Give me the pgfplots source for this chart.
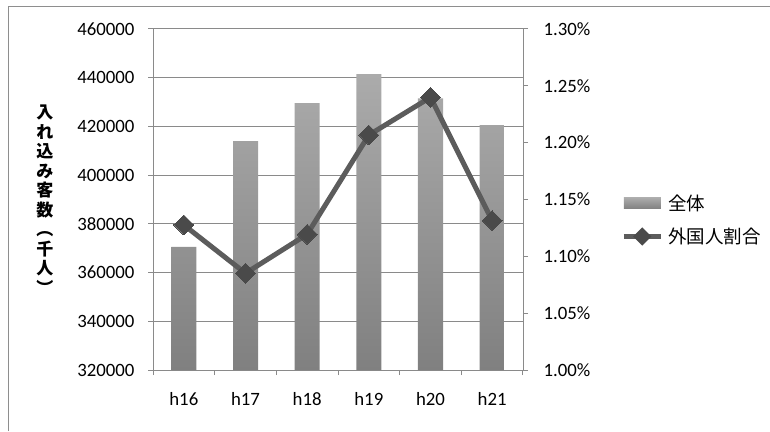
\documentclass[border=0pt]{standalone}
\usepackage{pgfplots}
\pgfplotsset{compat=1.18}
\usepackage{pgfplotstable}
\usepackage{fontspec}
\setmainfont{Carlito}
\newfontfamily\jp{Noto Sans CJK JP}
\newcommand\tickfont{\fontsize{18.8}{20}\selectfont}

\definecolor{framegray}{HTML}{8E8E8E}
\definecolor{gridgray}{HTML}{8A8A8A}
\definecolor{barTop}{HTML}{ABABAB}
\definecolor{barBot}{HTML}{808080}
\definecolor{lineC}{HTML}{5C5C5C}
\definecolor{markC}{HTML}{4A4A4A}

% visitors (thousand people) per fiscal year
\pgfplotstableread{
idx year visitors
0   h16  370500
1   h17  414000
2   h18  429600
3   h19  441500
4   h20  431500
5   h21  420500
}\visitors

% share of foreign visitors, percent
\pgfplotstableread{
idx year share
0   h16  1.1276
1   h17  1.0851
2   h18  1.1194
3   h19  1.2067
4   h20  1.2399
5   h21  1.1314
}\foreign

\begin{document}
\begin{tikzpicture}[x=1pt,y=1pt]
\useasboundingbox (0,0) rectangle (770,431);
\draw[framegray, line width=1pt] (8,0) -- (8,424.5) -- (770,424.5);

\pgfplotsset{
  base/.style={
    at={(153pt,61pt)}, anchor=south west,
    scale only axis, width=370pt, height=341pt,
    xmin=-0.5, xmax=5.5,
    tick align=outside, major tick length=5pt,
    every tick/.style={gridgray, line width=1pt},
    axis line style={gridgray, line width=1pt},
    xticklabel style={font=\tickfont},
    yticklabel style={font=\tickfont},
    scaled y ticks=false,
    /pgf/number format/assume math mode=true,
  },
}

% bars: visitors, drawn up from the 320000 baseline
\begin{axis}[base,
  axis x line*=bottom, axis y line*=left,
  ymin=0, ymax=140000,
  ytick={0,20000,...,140000},
  yticklabel={\pgfkeys{/pgf/fpu=true}\pgfmathparse{\tick+320000}%
    \pgfmathprintnumber[fixed,precision=0,1000 sep={}]{\pgfmathresult}},
  yticklabel style={xshift=-10pt},
  ymajorgrids, grid style={gridgray, line width=1pt},
  xtick={-0.5,0.5,...,5.5}, xticklabels={,,,,,,,},
  extra x ticks={0,1,2,3,4,5},
  extra x tick labels={h16,h17,h18,h19,h20,h21},
  extra x tick style={major tick length=0pt, xticklabel style={yshift=-19pt}},
  every axis y label/.style={at={(axis description cs:-0.292,0.50)}, anchor=center},
  ylabel={入\\れ\\込\\み\\客\\数\\︵\\千\\人\\︶},
  ylabel style={align=center, font=\jp\bfseries\fontsize{17}{19.5}\selectfont},
]
\addplot[ybar, bar width=25pt, draw=none, top color=barTop, bottom color=barBot]
  table[x=idx, y expr=\thisrow{visitors}-320000] {\visitors};
\end{axis}

% line: share of foreign visitors
\begin{axis}[base,
  axis y line*=right, axis x line=none,
  ymin=1.00, ymax=1.30,
  ytick={1.00,1.05,...,1.30},
  yticklabel={\pgfmathprintnumber[fixed,fixed zerofill,precision=2]{\tick}\%},
  yticklabel style={xshift=12pt},
  legend style={draw=none, fill=none, inner sep=0pt,
    at={(axis description cs:1.265,0.44)}, anchor=west,
    nodes={inner sep=0pt, anchor=west, font=\jp\fontsize{18.5}{20}\selectfont},
    row sep=16pt, column sep=5pt},
  legend cell align=left,
]
\addlegendimage{draw=none, legend image code/.code={
  \path[draw=none, top color=barTop, bottom color=barBot] (0pt,-5.5pt) rectangle (37pt,5.5pt);}}
\addlegendentry{全体}
\addplot[lineC, line width=5pt, mark=square*, mark size=7pt,
  mark options={rotate=45, fill=markC, draw=markC, line width=0pt},
  legend image code/.code={
    \draw[lineC, line width=5pt] (0pt,0pt) -- (37pt,0pt);
    \fill[markC, rotate around={45:(18.5pt,0pt)}] (14.5pt,-4pt) rectangle (22.5pt,4pt);}]
  table[x=idx, y=share] {\foreign};
\addlegendentry{外国人割合}
\end{axis}
\end{tikzpicture}
\end{document}
